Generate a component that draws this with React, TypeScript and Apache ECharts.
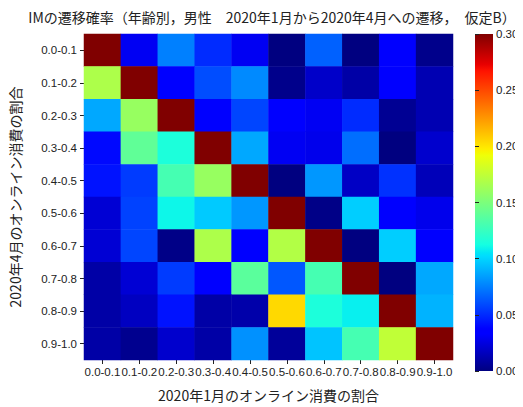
import React, { useEffect, useRef } from "react";
import * as echarts from "echarts";

// Bin labels shared by both axes (share of online consumption)
const fromBins = ["0.0-0.1", "0.1-0.2", "0.2-0.3", "0.3-0.4", "0.4-0.5", "0.5-0.6", "0.6-0.7", "0.7-0.8", "0.8-0.9", "0.9-1.0"];
const toBins = ["0.0-0.1", "0.1-0.2", "0.2-0.3", "0.3-0.4", "0.4-0.5", "0.5-0.6", "0.6-0.7", "0.7-0.8", "0.8-0.9", "0.9-1.0"];

// Transition probabilities, one row per April bin (columns = January bins)
const row00 = [0.30, 0.030, 0.075, 0.050, 0.030, 0.000, 0.066, 0.000, 0.037, 0.003];
const row01 = [0.168, 0.30, 0.034, 0.060, 0.078, 0.003, 0.019, 0.010, 0.037, 0.013];
const row02 = [0.087, 0.160, 0.30, 0.034, 0.058, 0.036, 0.030, 0.050, 0.005, 0.013];
const row03 = [0.040, 0.140, 0.115, 0.30, 0.087, 0.030, 0.028, 0.070, 0.000, 0.020];
const row04 = [0.043, 0.055, 0.130, 0.160, 0.30, 0.000, 0.082, 0.018, 0.052, 0.015];
const row05 = [0.022, 0.057, 0.110, 0.097, 0.082, 0.30, 0.002, 0.098, 0.036, 0.028];
const row06 = [0.022, 0.058, 0.002, 0.168, 0.036, 0.170, 0.30, 0.000, 0.098, 0.035];
const row07 = [0.010, 0.022, 0.055, 0.037, 0.138, 0.063, 0.130, 0.30, 0.000, 0.087];
const row08 = [0.010, 0.017, 0.043, 0.010, 0.011, 0.204, 0.115, 0.108, 0.30, 0.090];
const row09 = [0.010, 0.004, 0.020, 0.010, 0.080, 0.007, 0.095, 0.130, 0.175, 0.30];
const matrix = [row00, row01, row02, row03, row04, row05, row06, row07, row08, row09];

// Colour bar range and ticks
const vMin = 0;
const vMax = 0.3;
const barTicks = [0, 0.05, 0.1, 0.15, 0.2, 0.25, 0.3];

const FONT = "'Noto Sans CJK JP', 'Noto Sans', sans-serif";
const NUM_FONT = "'Liberation Sans', Arial, sans-serif";
const TXT = "#222";

// Piecewise-linear "jet" colormap
const jetR: [number, number][] = [[0, 0], [0.35, 0], [0.66, 1], [0.89, 1], [1, 0.5]];
const jetG: [number, number][] = [[0, 0], [0.125, 0], [0.375, 1], [0.64, 1], [0.91, 0], [1, 0]];
const jetB: [number, number][] = [[0, 0.5], [0.11, 1], [0.34, 1], [0.65, 0], [1, 0]];
function interp(pts: [number, number][], t: number) {
  for (let i = 1; i < pts.length; i++) {
    if (t <= pts[i][0]) {
      const [x0, y0] = pts[i - 1];
      const [x1, y1] = pts[i];
      return y0 + ((y1 - y0) * (t - x0)) / (x1 - x0);
    }
  }
  return pts[pts.length - 1][1];
}
function jet(t: number) {
  const c = (v: number) => Math.round(Math.max(0, Math.min(1, v)) * 255);
  return `rgb(${c(interp(jetR, t))},${c(interp(jetG, t))},${c(interp(jetB, t))})`;
}
const jetColors = Array.from({ length: 201 }, (_, i) => jet(i / 200));
const jetStops = [0, 0.11, 0.125, 0.34, 0.35, 0.375, 0.64, 0.65, 0.66, 0.89, 0.91, 1].map((o) => ({
  offset: o,
  color: jet(o),
}));

// Layout
const plot = { left: 81, top: 34, width: 372, height: 336 };
const bar = { left: 475, top: 34, width: 18, height: 337 };

export default function App() {
  const ref = useRef<HTMLDivElement>(null);

  useEffect(() => {
    if (!ref.current) return;
    const chart = echarts.init(ref.current, null, { renderer: "svg" });

    const cells: [number, number, number][] = [];
    matrix.forEach((row, r) => row.forEach((v, c) => cells.push([c, r, v])));

    chart.setOption({
      animation: false,
      textStyle: { fontFamily: FONT },
      title: {
        text: "IMの遷移確率（年齢別，男性　2020年1月から2020年4月への遷移，　仮定B）",
        left: plot.left + plot.width / 2,
        textAlign: "center",
        top: 5,
        textStyle: { fontSize: 14, fontWeight: "normal", color: TXT, fontFamily: FONT },
      },
      grid: [
        { ...plot, containLabel: false },
        { ...bar, containLabel: false },
      ],
      xAxis: [
        {
          type: "category",
          gridIndex: 0,
          data: fromBins,
          axisLine: { show: false },
          axisTick: { show: true, alignWithLabel: true, length: 4, lineStyle: { color: TXT } },
          axisLabel: { interval: 0, fontSize: 11.5, color: TXT, margin: 6, fontFamily: NUM_FONT },
          splitLine: { show: false },
          name: "2020年1月のオンライン消費の割合",
          nameLocation: "middle",
          nameGap: 28,
          nameTextStyle: { fontSize: 14, color: TXT, fontFamily: FONT },
        },
        { type: "value", gridIndex: 1, show: false, min: 0, max: 1 },
      ],
      yAxis: [
        {
          type: "category",
          gridIndex: 0,
          data: toBins,
          inverse: true,
          axisLine: { show: false },
          axisTick: { show: true, alignWithLabel: true, length: 4, lineStyle: { color: TXT } },
          axisLabel: { interval: 0, fontSize: 11.5, color: TXT, margin: 7, fontFamily: NUM_FONT },
          splitLine: { show: false },
          name: "2020年4月のオンライン消費の割合",
          nameLocation: "middle",
          nameGap: 62,
          nameTextStyle: { fontSize: 14, color: TXT, fontFamily: FONT },
        },
        {
          type: "value",
          gridIndex: 1,
          position: "right",
          min: vMin,
          max: vMax,
          interval: 0.05,
          axisLine: { show: false },
          axisTick: { show: true, length: 4, lineStyle: { color: TXT } },
          axisLabel: {
            fontSize: 11.5,
            color: TXT,
            margin: 3,
            fontFamily: NUM_FONT,
            formatter: (v: number) => (barTicks.some((t) => Math.abs(t - v) < 1e-9) ? v.toFixed(2) : ""),
          },
          splitLine: { show: false },
        },
      ],
      visualMap: {
        show: false,
        type: "continuous",
        seriesIndex: 0,
        min: vMin,
        max: vMax,
        inRange: { color: jetColors },
      },
      graphic: [
        {
          type: "rect",
          shape: { x: bar.left, y: bar.top, width: bar.width, height: bar.height },
          style: { fill: new echarts.graphic.LinearGradient(0, 1, 0, 0, jetStops) },
          z: -1,
        },
      ],
      series: [
        {
          type: "heatmap",
          xAxisIndex: 0,
          yAxisIndex: 0,
          data: cells,
          itemStyle: { borderWidth: 0 },
          emphasis: { disabled: true },
        },
      ],
    });

    return () => chart.dispose();
  }, []);

  return <div ref={ref} style={{ width: 523, height: 407, marginLeft: -8, marginTop: -8 }} />;
}
